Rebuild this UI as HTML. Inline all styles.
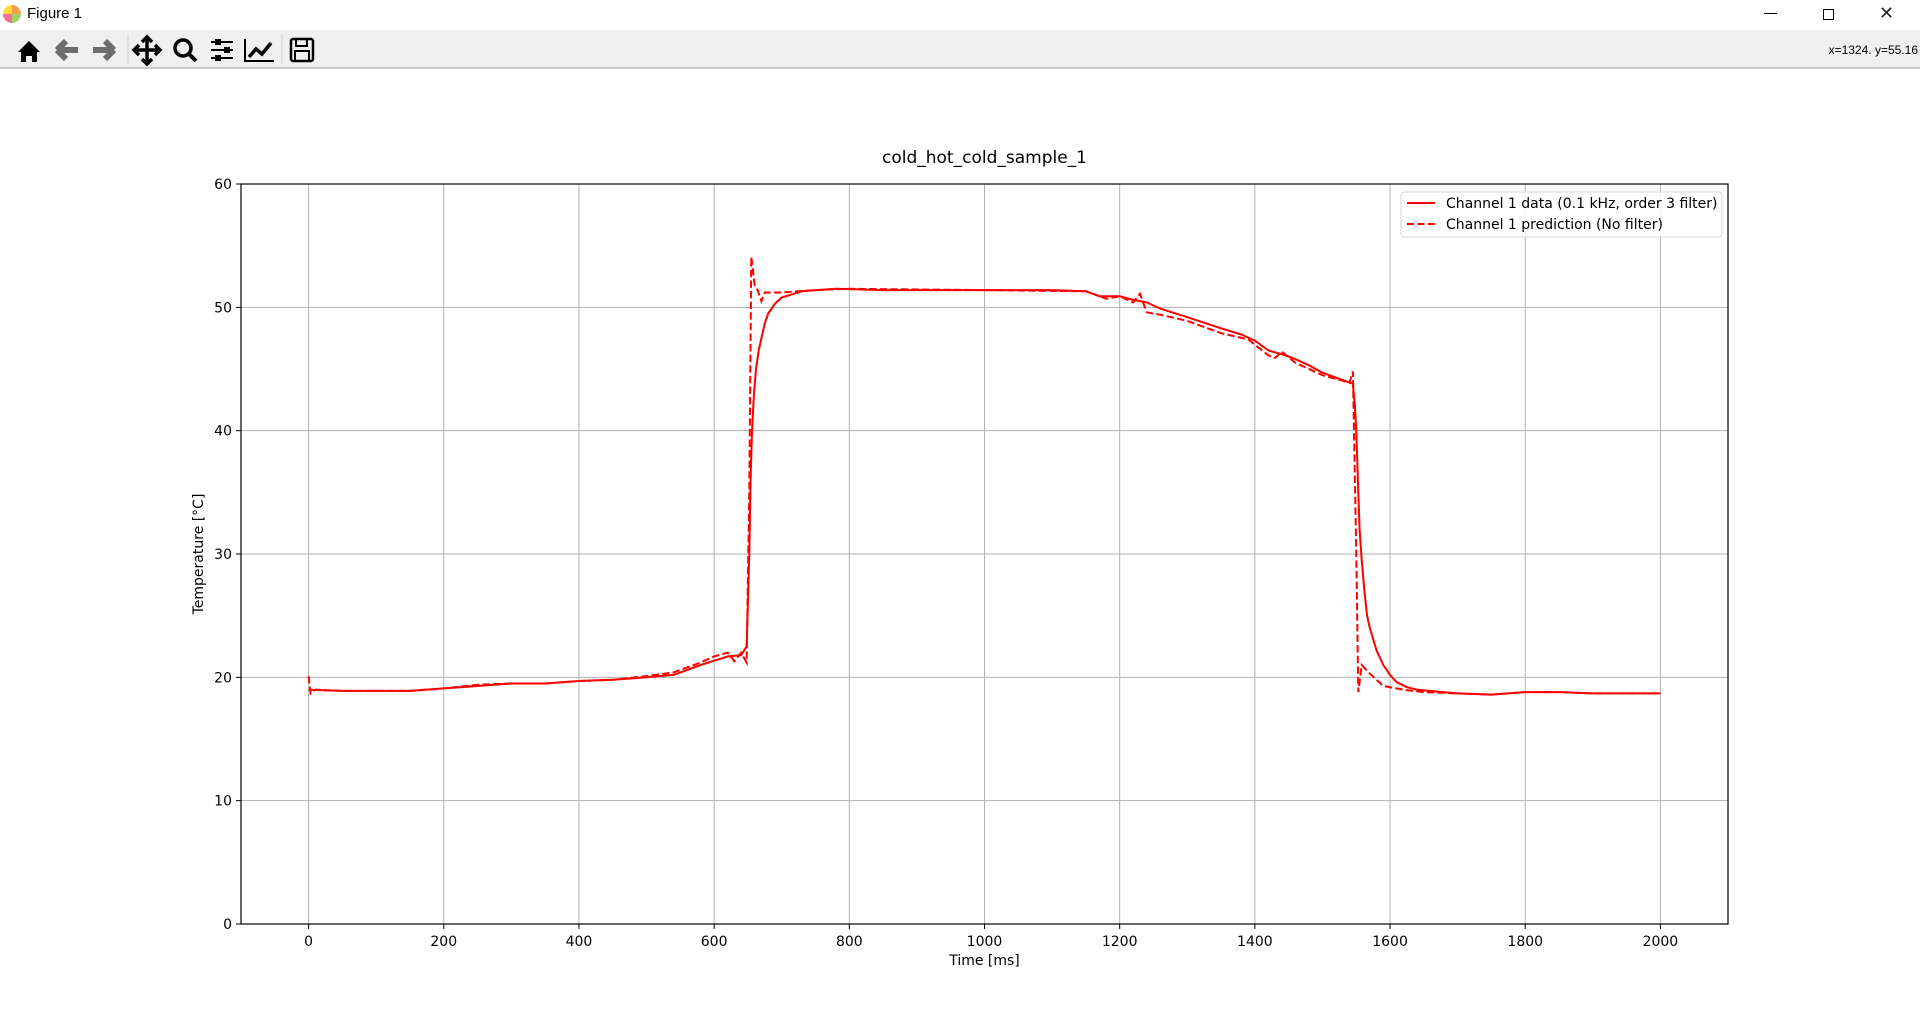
<!DOCTYPE html>
<html><head><meta charset="utf-8">
<style>
html,body{margin:0;padding:0;width:1920px;height:1030px;overflow:hidden;background:#fff;font-family:"DejaVu Sans","Liberation Sans",sans-serif;}
#titlebar{position:absolute;left:0;top:0;width:1920px;height:30px;background:#fff;}
#toolbar{position:absolute;left:0;top:30px;width:1920px;height:37px;background:#f0f0f0;border-bottom:2px solid #c8c8c8;}
svg text{font-family:"DejaVu Sans","Liberation Sans",sans-serif;}
</style></head><body>
<div id="titlebar">
 <div style="position:absolute;left:3px;top:5px;width:18px;height:18px;border-radius:50%;background:conic-gradient(#f58220 0 25%,#8dc63f 0 50%,#e94e77 0 75%,#ffd200 0);opacity:.8"></div>
 <div style="position:absolute;left:27px;top:5px;font-size:15px;font-family:'Liberation Sans',sans-serif;">Figure 1</div>
 <div style="position:absolute;left:1764px;top:13px;width:13px;height:1px;background:#000"></div>
 <div style="position:absolute;left:1823px;top:9px;width:9px;height:9px;border:1px solid #000;"></div>
 <div style="position:absolute;left:1879px;top:3px;font-size:18px;font-weight:100;color:#222;">✕</div>
</div>
<div id="toolbar">
 <svg width="340" height="37" style="position:absolute;left:0;top:0">
  <g><path d="M18 22 L29 11 L40 22 L37 22 L37 32 L32 32 L32 26 L26 26 L26 32 L21 32 L21 22 Z" fill="#000"/></g>
  <g><path d="M57 20 L66 11 M57 20 L66 29 M57 20 L78 20" stroke="#6d6d6d" stroke-width="6" fill="none"/></g>
  <g><path d="M114 20 L105 11 M114 20 L105 29 M114 20 L93 20" stroke="#6d6d6d" stroke-width="6" fill="none"/></g>
  <g><path d="M147 8 L147 33 M135 20 L160 20 M142 12 L147 7 L152 12 M142 29 L147 34 L152 29 M139 15 L134 20 L139 25 M155 15 L160 20 L155 25" stroke="#000" stroke-width="3.5" fill="none"/></g>
  <g><circle cx="183" cy="18" r="8" stroke="#000" stroke-width="3.5" fill="none"/><path d="M189 24 L196 31" stroke="#000" stroke-width="4"/></g>
  <g><path d="M211 12 H233 M211 20 H233 M211 28 H233" stroke="#000" stroke-width="2"/><rect x="215" y="9" width="6" height="6"/><rect x="224" y="17" width="6" height="6"/><rect x="215" y="25" width="6" height="6"/></g>
  <g><path d="M245 9 L245 31 L274 31" stroke="#000" stroke-width="2" fill="none"/><path d="M249 27 L256 19 L262 24 L271 13" stroke="#000" stroke-width="3.5" fill="none"/></g>
  <g><rect x="291" y="9" width="22" height="22" rx="2" stroke="#000" stroke-width="2.5" fill="none"/><rect x="296" y="9" width="11" height="7" stroke="#000" stroke-width="2" fill="none"/><rect x="295" y="21" width="14" height="10" stroke="#000" stroke-width="2" fill="none"/></g>
  <path d="M128 4 V34 M282 4 V34" stroke="#d0d0d0"/>
 </svg>
 <div style="position:absolute;right:2px;top:13px;font-size:12px;font-family:'Liberation Sans',sans-serif;">x=1324. y=55.16</div>
</div>
<svg id="chart" width="1920" height="1030" style="position:absolute;left:0;top:0"></svg>
<script>
const xTicks=[0,200,400,600,800,1000,1200,1400,1600,1800,2000];
const yTicks=[0,10,20,30,40,50,60];
const dataT=[0,50,100,150,200,250,300,350,400,450,500,540,580,620,640,648,650,652,654,656,659,662,666,670,675,680,690,700,730,780,850,1000,1100,1150,1170,1200,1220,1240,1260,1300,1350,1380,1400,1420,1440,1460,1480,1500,1530,1545,1548,1550,1553,1555,1558,1562,1566,1570,1580,1590,1600,1610,1625,1640,1700,1750,1800,1850,1900,2000];
const dataV=[19.0,18.9,18.9,18.9,19.1,19.3,19.5,19.5,19.7,19.8,20.0,20.2,21.0,21.7,21.8,22.5,26,30,36,40,43,45,46.5,47.5,48.7,49.5,50.3,50.8,51.3,51.5,51.4,51.4,51.4,51.3,50.9,50.9,50.6,50.4,49.9,49.2,48.3,47.8,47.3,46.5,46.2,45.8,45.3,44.7,44.1,43.8,42,40,35,32,29.5,27,25,24,22.2,21,20.2,19.6,19.2,19.0,18.7,18.6,18.8,18.8,18.7,18.7];
const predT=[0,3,10,50,100,150,200,250,300,350,400,450,500,540,580,600,620,630,640,648,652,655,660,665,670,675,700,750,800,1000,1150,1180,1200,1220,1230,1240,1260,1300,1350,1390,1420,1430,1440,1460,1500,1540,1545,1550,1553,1558,1570,1590,1620,1650,1700,1750,1800,1850,1900,2000];
const predV=[20.1,18.7,19.0,18.9,18.9,18.9,19.1,19.4,19.5,19.5,19.7,19.8,20.1,20.4,21.2,21.7,22.0,21.3,22.0,21.2,35,54.1,51.8,51.3,50.5,51.2,51.2,51.4,51.5,51.4,51.3,50.7,50.9,50.4,51.1,49.6,49.4,48.9,47.9,47.4,46.1,45.9,46.4,45.5,44.5,43.9,44.8,30,18.8,21.0,20.3,19.3,19.0,18.8,18.7,18.6,18.8,18.8,18.7,18.7];

const L=241,T=184,R=1728,B=924,XMIN=-100,XMAX=2100,YMIN=0,YMAX=60;
const sx=v=>L+(v-XMIN)/(XMAX-XMIN)*(R-L);
const sy=v=>B-(v-YMIN)/(YMAX-YMIN)*(B-T);
const NS='http://www.w3.org/2000/svg';
const svg=document.getElementById('chart');
function mk(tag,attrs,parent){const e=document.createElementNS(NS,tag);for(const k in attrs)e.setAttribute(k,attrs[k]);(parent||svg).appendChild(e);return e;}

const grid=mk('g',{});


for(const t of xTicks){
 const l=mk('line',{x1:sx(t),x2:sx(t),y1:T,y2:B,stroke:'#b0b0b0','stroke-width':1},grid);
 
 
 const tk=mk('line',{x1:sx(t),x2:sx(t),y1:B,y2:B+5,stroke:'#000'});
 
 
 const tx=mk('text',{x:sx(t),y:B+22,'font-size':14,'text-anchor':'middle'});
 tx.textContent=t;
 
 
}
for(const t of yTicks){
 const l=mk('line',{x1:L,x2:R,y1:sy(t),y2:sy(t),stroke:'#b0b0b0','stroke-width':1},grid);
 
 
 const tk=mk('line',{x1:L-5,x2:L,y1:sy(t),y2:sy(t),stroke:'#000'});
 
 
 const tx=mk('text',{x:L-9,y:sy(t)+5,'font-size':14,'text-anchor':'end'});
 tx.textContent=t;
 
 
}
function path(ts,vs){return ts.map((t,i)=>(i?'L':'M')+sx(t).toFixed(1)+' '+sy(vs[i]).toFixed(1)).join(' ');}
const s1=mk('path',{d:path(dataT,dataV),fill:'none',stroke:'#ff0000','stroke-width':2,'stroke-linejoin':'round'});


const s2=mk('path',{d:path(predT,predV),fill:'none',stroke:'#ff0000','stroke-width':2,'stroke-dasharray':'7.4,3.2'});



const frame=mk('rect',{x:L,y:T,width:R-L,height:B-T,fill:'none',stroke:'#000','stroke-width':1.2});



const title=mk('text',{x:(L+R)/2,y:163,'font-size':17,'text-anchor':'middle'});
title.textContent='cold_hot_cold_sample_1';


const xl=mk('text',{x:(L+R)/2,y:965,'font-size':14,'text-anchor':'middle'});
xl.textContent='Time [ms]';


const yl=mk('text',{x:0,y:0,'font-size':14,'text-anchor':'middle',transform:`translate(203,${(T+B)/2}) rotate(-90)`});
yl.textContent='Temperature [°C]';



const lg=mk('g',{});


mk('rect',{x:1401,y:192,width:321,height:45,rx:3,fill:'#fff','fill-opacity':0.8,stroke:'#d6d6d6'},lg);
const e1=mk('g',{},lg);


mk('line',{x1:1407,x2:1435,y1:203,y2:203,stroke:'#ff0000','stroke-width':2},e1);
const t1=mk('text',{x:1446,y:208,'font-size':14},e1);t1.textContent='Channel 1 data (0.1 kHz, order 3 filter)';
const e2=mk('g',{},lg);


mk('line',{x1:1407,x2:1435,y1:224,y2:224,stroke:'#ff0000','stroke-width':2,'stroke-dasharray':'7,3.5'},e2);
const t2=mk('text',{x:1446,y:229,'font-size':14},e2);t2.textContent='Channel 1 prediction (No filter)';
</script>
</body></html>
